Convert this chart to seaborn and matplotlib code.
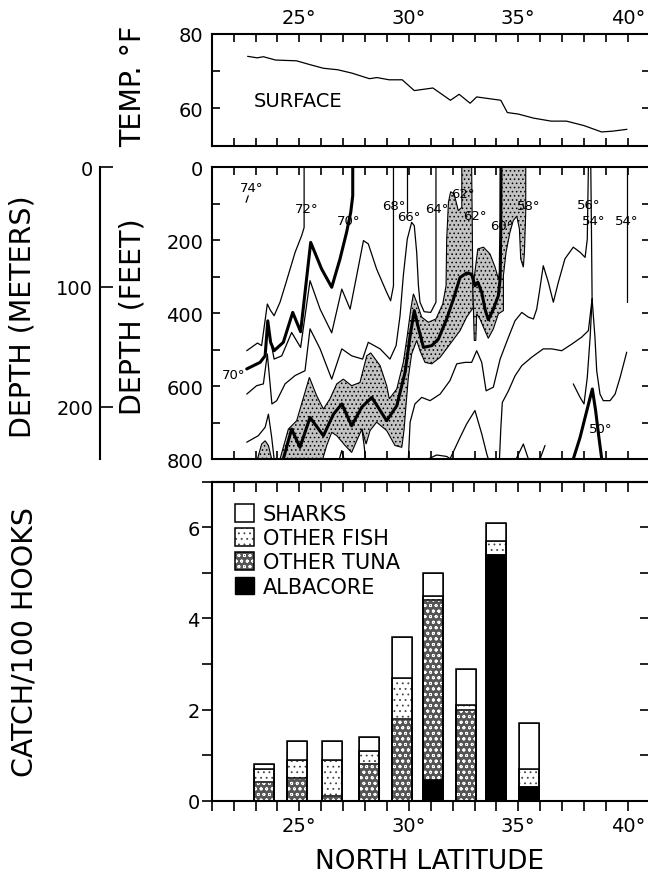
import numpy as np
import matplotlib
matplotlib.use("Agg")
import matplotlib.pyplot as plt
import seaborn as sns
from matplotlib.patches import Patch
from matplotlib.ticker import FixedLocator, MultipleLocator

sns.set_style("ticks")
plt.rcParams["font.family"] = ["DejaVu Sans"]
plt.rcParams["axes.edgecolor"] = "black"
plt.rcParams["axes.linewidth"] = 1.5
plt.rcParams["xtick.color"] = "black"
plt.rcParams["ytick.color"] = "black"
plt.rcParams["text.color"] = "black"
plt.rcParams["hatch.linewidth"] = 0.6


# surface temperature (deg F) along the track
surface_lat = [22.64, 23.08, 23.36, 23.92, 24.87, 25.53, 26.10, 26.75, 27.40, 28.20,
               28.55, 29.10, 29.70, 30.25, 31.10, 31.90, 32.30, 32.80, 33.10, 34.20,
               34.50, 35.00, 35.70, 36.50, 37.20, 38.00, 38.80, 39.30, 39.96]
surface_temp = [74.0, 73.6, 73.9, 73.0, 72.8, 71.7, 70.8, 70.4, 69.5, 68.0,
                68.3, 67.7, 67.7, 64.8, 65.5, 62.2, 63.8, 61.4, 63.1, 62.2,
                58.9, 58.5, 57.4, 56.6, 56.6, 55.4, 53.7, 53.9, 54.4]

# isotherms: latitude and depth in feet
iso74_lat = [22.67, 22.57]
iso74_depth = [78, 96]

iso72_lat = [22.60, 23.09, 23.28, 23.54, 23.69, 23.85, 24.12, 24.35, 24.58, 24.81, 25.11, 25.22, 25.22]
iso72_depth = [503, 482, 489, 375, 393, 407, 370, 325, 279, 233, 187, 165, 0]

iso70_lat = [22.60, 23.21, 23.44, 23.56, 23.69, 23.85, 24.27, 24.70, 25.06, 25.52, 26.02, 26.48,
             26.86, 27.16, 27.35, 27.44, 27.44]
iso70_depth = [553, 535, 517, 421, 480, 503, 480, 398, 451, 206, 279, 329, 251, 178, 123, 78, 0]

iso68_lat = [23.59, 23.85, 24.20, 24.65, 25.06, 25.49, 25.95, 26.48, 26.94, 27.32, 27.62, 27.93,
             28.15, 28.53, 28.99, 29.17, 29.30, 29.30]
iso68_depth = [443, 526, 517, 453, 494, 311, 389, 454, 334, 389, 297, 201, 210, 279, 343, 366, 325, 0]

iso66_lat = [22.60, 23.05, 23.36, 23.54, 23.75, 23.97, 24.35, 24.81, 25.26, 25.49, 25.95, 26.48,
             26.94, 27.39, 27.89, 28.15, 28.69, 29.14, 29.42, 29.60, 29.75, 29.93, 30.13, 30.25,
             30.36, 30.44, 30.51, 30.70, 31.00, 31.24, 31.24]
iso66_depth = [622, 599, 594, 512, 649, 640, 594, 571, 558, 443, 498, 581, 498, 517, 526, 480,
               498, 526, 489, 407, 297, 197, 151, 160, 233, 325, 370, 396, 398, 370, 0]

iso66_top_lat = [29.90, 29.90]
iso66_top_depth = [0, 123]

iso_left_lat = [22.60, 23.13, 23.44, 23.59, 23.74, 23.85]
iso_left_depth = [754, 736, 713, 677, 741, 800]

iso60_lat = [24.27, 24.65, 25.03, 25.49, 26.10, 26.56, 26.94, 27.39, 27.85, 28.31, 28.99, 29.45,
             29.83, 30.06, 30.25, 30.45, 30.67, 31.05, 31.35, 31.73, 32.04, 32.34, 32.64, 32.87,
             33.02, 33.15, 33.33, 33.48, 33.63, 33.86, 34.09, 34.17, 34.20, 34.21]
iso60_depth = [800, 718, 768, 686, 736, 677, 649, 709, 658, 631, 695, 654, 562, 462, 393, 443,
               494, 489, 471, 416, 361, 302, 290, 293, 325, 315, 343, 389, 418, 389, 352, 306, 169, 0]

iso56_lat = [29.98, 30.06, 30.28, 30.59, 30.97, 31.43, 31.88, 32.19, 32.57, 32.87, 33.10, 33.33,
             33.53, 33.86, 34.17, 34.55, 34.85, 35.16, 35.46, 35.69, 35.84, 35.96, 36.14, 36.37,
             36.60, 36.83, 37.13, 37.51, 37.82, 38.05, 38.15, 38.20]
iso56_depth = [800, 699, 649, 631, 640, 622, 585, 539, 535, 535, 503, 535, 613, 603, 526, 466,
               421, 398, 411, 416, 389, 343, 270, 315, 370, 315, 251, 219, 233, 247, 197, 0]

iso_low_lat = [34.14, 34.20, 34.27, 34.55, 34.85, 35.16, 35.61, 36.14, 36.53, 36.98, 37.44, 37.89, 38.20, 38.37]
iso_low_depth = [800, 718, 645, 613, 572, 544, 521, 498, 498, 503, 485, 466, 448, 361]

iso54_lat = [38.31, 38.34, 38.37]
iso54_depth = [0, 169, 361]
iso54_left_lat = [37.51, 37.82, 38.00, 38.15, 38.28, 38.37]
iso54_left_depth = [594, 631, 649, 576, 466, 361]
iso54_right_lat = [38.37, 38.50, 38.58, 38.73, 38.88, 39.19, 39.42, 39.65, 39.95]
iso54_right_depth = [361, 466, 558, 622, 640, 640, 622, 576, 507]
iso54b_lat = [39.95, 39.95]
iso54b_depth = [0, 370]

iso50_lat = [37.51, 37.82, 38.05, 38.38, 38.53, 38.66, 38.81]
iso50_depth = [800, 741, 686, 608, 667, 731, 800]

hump0_lat = [26.83, 26.94, 27.04]
hump0_depth = [800, 777, 800]
hump1_lat = [31.88, 32.34, 32.64, 33.02, 33.33, 33.56, 33.63]
hump1_depth = [800, 741, 704, 667, 731, 786, 800]
hump2_lat = [30.89, 31.27, 31.73, 31.91]
hump2_depth = [800, 789, 793, 800]
hump3_lat = [34.90, 35.23, 35.46]
hump3_depth = [800, 759, 800]
stub1_lat = [27.86, 27.96, 28.02]
stub1_depth = [718, 763, 800]
stub2_lat = [35.99, 36.22]
stub2_depth = [800, 763]

# stippled areas (outlines)
lobe_lat = [23.09, 23.28, 23.44, 23.59, 23.74]
lobe_depth = [800, 759, 750, 763, 800]

shade_a_lat = [24.12, 24.50, 24.88, 25.46, 25.79, 26.10, 26.40, 26.71, 27.01, 27.39, 27.77, 28.08,
               28.26, 28.69, 28.99, 29.11, 29.45, 29.75, 29.93, 30.09, 30.21, 30.36, 30.59, 30.89,
               31.24, 31.55, 31.70, 31.73, 31.81, 31.91, 32.07, 32.26, 32.42, 32.42, 32.87, 32.90,
               32.92, 32.95,
               32.64, 32.34, 31.88, 31.43, 31.05, 30.74, 30.51, 30.36, 30.13, 29.98, 29.87, 29.78,
               29.68, 29.37, 28.99, 28.53, 28.23, 28.05, 27.86, 27.62, 27.39, 27.09, 26.71, 26.48,
               26.25, 26.07]
shade_a_depth = [800, 718, 695, 576, 626, 663, 635, 594, 581, 599, 590, 517,
                 509, 544, 599, 635, 608, 535, 462, 389, 347, 370, 411, 425,
                 416, 375, 325, 197, 96, 67, 73, 119, 110, 0, 0, 169,
                 297, 384,
                 411, 448, 485, 521, 539, 535, 503, 475, 512, 576, 654, 722,
                 768, 763, 722, 699, 722, 759, 718, 750, 782, 763, 736, 727,
                 763, 800]

shade_b_lat = [32.98, 33.15, 33.41, 33.71, 33.94, 34.09, 34.17, 34.20, 34.21, 35.34, 35.34, 35.28,
               35.23, 35.11, 35.05, 34.93, 34.77, 34.62, 34.44, 34.32, 34.32, 34.09, 33.86, 33.63,
               33.44, 33.25, 33.10, 33.06, 32.99, 32.95, 32.92]
shade_b_depth = [306, 224, 219, 238, 274, 306, 279, 169, 0, 0, 123, 233,
                 274, 251, 169, 134, 146, 178, 233, 297, 393, 402, 443, 469,
                 443, 416, 402, 475, 475, 389, 325]

iso_label_text = ["74°", "72°", "70°", "68°", "66°", "64°", "62°", "62°", "60°", "58°",
                  "56°", "54°", "54°", "50°", "70°"]
iso_label_lat = [22.83, 25.34, 27.24, 29.30, 29.98, 31.27, 32.49, 33.02, 34.24, 35.46,
                 38.20, 38.43, 39.95, 38.76, 21.99]
iso_label_depth = [55, 112, 146, 105, 134, 112, 73, 133, 160, 105, 103, 146, 146, 716, 567]

# catch per 100 hooks
bar_lat = [23.4, 24.9, 26.5, 28.2, 29.7, 31.1, 32.6, 34.0, 35.5]
albacore = [0, 0, 0, 0, 0, 0.45, 0, 5.4, 0.3]
other_tuna = [0.4, 0.5, 0.1, 0.8, 1.8, 3.95, 2.0, 0, 0]
other_fish = [0.3, 0.4, 0.8, 0.3, 0.9, 0.1, 0.1, 0.3, 0.4]
sharks = [0.1, 0.4, 0.4, 0.3, 0.9, 0.5, 0.8, 0.4, 1.0]

lat_labels = [25, 30, 35, 40]


# figure layout in pixels
W, H = 648, 879


def box(left, top, right, bottom):
    return [left / W, 1 - bottom / H, (right - left) / W, (bottom - top) / H]


fig = plt.figure(figsize=(W / 100, H / 100), dpi=100)
ax_t = fig.add_axes(box(211.7, 35, 649.7, 146.7))
ax_d = fig.add_axes(box(211.7, 168.3, 649.7, 460))
ax_b = fig.add_axes(box(211.7, 482.7, 649.7, 801.7))
ax_m = fig.add_axes(box(100, 168.3, 100.5, 460))

tick_len = 6
deg = [f"{v}°" for v in lat_labels]


def lat_ticks(ax):
    ax.set_xlim(21, 41)
    ax.xaxis.set_major_locator(FixedLocator(lat_labels))
    ax.xaxis.set_minor_locator(MultipleLocator(1))


# top panel: surface temperature
sns.lineplot(x=surface_lat, y=surface_temp, sort=False, estimator=None,
             color="black", linewidth=0.9, ax=ax_t)
lat_ticks(ax_t)
ax_t.set_xticklabels(deg)
ax_t.set_ylim(50, 80)
ax_t.yaxis.set_major_locator(FixedLocator([60, 80]))
ax_t.yaxis.set_minor_locator(FixedLocator([70]))
ax_t.tick_params(which="both", direction="in", top=True, bottom=True, left=True, right=True,
                 length=tick_len, width=1.2)
ax_t.tick_params(axis="x", labeltop=True, labelbottom=False, pad=5, labelsize=14)
ax_t.tick_params(axis="y", pad=6, labelsize=14)
ax_t.text(22.9, 62.2, "SURFACE", fontsize=14, ha="left", va="center")
ax_t.set_xlabel("")
ax_t.set_ylabel("")


# depth section
for lat, dep in [(lobe_lat, lobe_depth), (shade_a_lat, shade_a_depth), (shade_b_lat, shade_b_depth)]:
    ax_d.fill(lat, dep, facecolor="#c2c2c2", edgecolor="black", linewidth=0.8,
              hatch="....", zorder=1)

thin_lines = [
    (iso74_lat, iso74_depth), (iso72_lat, iso72_depth), (iso68_lat, iso68_depth),
    (iso66_lat, iso66_depth), (iso66_top_lat, iso66_top_depth), (iso_left_lat, iso_left_depth),
    (iso56_lat, iso56_depth), (iso_low_lat, iso_low_depth), (iso54_lat, iso54_depth),
    (iso54_left_lat, iso54_left_depth), (iso54_right_lat, iso54_right_depth),
    (iso54b_lat, iso54b_depth), (hump0_lat, hump0_depth), (hump1_lat, hump1_depth),
    (hump2_lat, hump2_depth), (hump3_lat, hump3_depth), (stub1_lat, stub1_depth),
    (stub2_lat, stub2_depth),
]
bold_lines = [(iso70_lat, iso70_depth), (iso60_lat, iso60_depth), (iso50_lat, iso50_depth)]

for lat, dep in thin_lines:
    sns.lineplot(x=lat, y=dep, sort=False, estimator=None, color="black",
                 linewidth=0.9, solid_joinstyle="round", ax=ax_d, zorder=2)
for lat, dep in bold_lines:
    sns.lineplot(x=lat, y=dep, sort=False, estimator=None, color="black",
                 linewidth=2.2, solid_joinstyle="round", ax=ax_d, zorder=3)

for txt, la, de in zip(iso_label_text, iso_label_lat, iso_label_depth):
    ax_d.text(la, de, txt, fontsize=9.5, ha="center", va="center", zorder=4)

lat_ticks(ax_d)
ax_d.set_ylim(800, 0)
ax_d.yaxis.set_major_locator(FixedLocator([0, 200, 400, 600, 800]))
ax_d.yaxis.set_minor_locator(MultipleLocator(100))
ax_d.tick_params(which="both", direction="in", top=True, bottom=True, left=True, right=True,
                 length=tick_len, width=1.2)
ax_d.tick_params(axis="x", labelbottom=False, labeltop=False)
ax_d.tick_params(axis="y", pad=6, labelsize=14)
ax_d.set_xlabel("")
ax_d.set_ylabel("")

# depth in meters
ax_m.set_ylim(800 * 0.3048, 0)
ax_m.set_yticks([0, 100, 200])
ax_m.set_xticks([])
for s in ["top", "right", "bottom"]:
    ax_m.spines[s].set_visible(False)
ax_m.patch.set_visible(False)
ax_m.tick_params(axis="y", direction="in", length=9, width=1.2, pad=5, labelsize=14)


# catch bars, drawn as overlapping cumulative layers
alb = np.array(albacore)
tuna_top = alb + np.array(other_tuna)
fish_top = tuna_top + np.array(other_fish)
total = fish_top + np.array(sharks)

tuna_face = "#555555"
layers = [
    (total, "white", "black", None),
    (fish_top, "white", "#444444", "..."),
    (tuna_top, tuna_face, "white", "ooo"),
    (alb, "black", "black", None),
]
for heights, fc, ec, hatch in layers:
    sns.barplot(x=bar_lat, y=heights, native_scale=True, width=0.65, color=fc,
                saturation=1, edgecolor=ec, linewidth=0.6, hatch=hatch,
                errorbar=None, ax=ax_b)
# black outlines of each segment
for heights in [total, fish_top, tuna_top, alb]:
    sns.barplot(x=bar_lat, y=heights, native_scale=True, width=0.65, color="black",
                fill=False, saturation=1, edgecolor="black", linewidth=1.1,
                errorbar=None, ax=ax_b)

lat_ticks(ax_b)
ax_b.set_xticklabels(deg)
ax_b.set_ylim(0, 7)
ax_b.yaxis.set_major_locator(FixedLocator([0, 2, 4, 6]))
ax_b.yaxis.set_minor_locator(FixedLocator([1, 3, 5, 7]))
ax_b.tick_params(which="both", direction="out", top=False, right=False, length=7, width=1.2)
ax_b.tick_params(axis="x", pad=4, labelsize=14)
ax_b.tick_params(axis="y", pad=1.5, labelsize=14)
ax_b.set_xlabel("")
ax_b.set_ylabel("")

sec_x = ax_b.secondary_xaxis("top")
sec_x.xaxis.set_major_locator(FixedLocator(lat_labels))
sec_x.xaxis.set_minor_locator(MultipleLocator(1))
sec_x.tick_params(which="both", direction="in", length=7, width=1.2, labeltop=False)
sec_y = ax_b.secondary_yaxis("right")
sec_y.yaxis.set_major_locator(FixedLocator([0, 2, 4, 6]))
sec_y.yaxis.set_minor_locator(FixedLocator([1, 3, 5, 7]))
sec_y.tick_params(which="both", direction="in", length=7, width=1.2, labelright=False)

outline = Patch(facecolor="none", edgecolor="black", linewidth=1.1)
handles = [
    Patch(facecolor="white", edgecolor="black", linewidth=1.1),
    (Patch(facecolor="white", edgecolor="#444444", hatch="...", linewidth=0), outline),
    (Patch(facecolor=tuna_face, edgecolor="white", hatch="ooo", linewidth=0), outline),
    Patch(facecolor="black", edgecolor="black"),
]
labels = ["SHARKS", "OTHER FISH", "OTHER TUNA", "ALBACORE"]
ax_b.legend(handles=handles, labels=labels, loc="upper left", bbox_to_anchor=(0.053, 0.93),
            frameon=False, fontsize=15, handlelength=0.91, handleheight=0.91,
            handletextpad=0.43, labelspacing=0.2, borderpad=0, borderaxespad=0)


# axis titles
fig.text(23 / W, 1 - 317 / H, "DEPTH (METERS)", rotation=90, ha="center", va="center", fontsize=20.5)
fig.text(133 / W, 1 - 317 / H, "DEPTH (FEET)", rotation=90, ha="center", va="center", fontsize=20.5)
fig.text(133 / W, 1 - 86 / H, "TEMP. °F", rotation=90, ha="center", va="center", fontsize=20.5)
fig.text(25 / W, 1 - 642 / H, "CATCH/100 HOOKS", rotation=90, ha="center", va="center", fontsize=20.5)
fig.text(430 / W, 1 - 862 / H, "NORTH LATITUDE", ha="center", va="center", fontsize=19)

fig.savefig("out.png", dpi=100)
